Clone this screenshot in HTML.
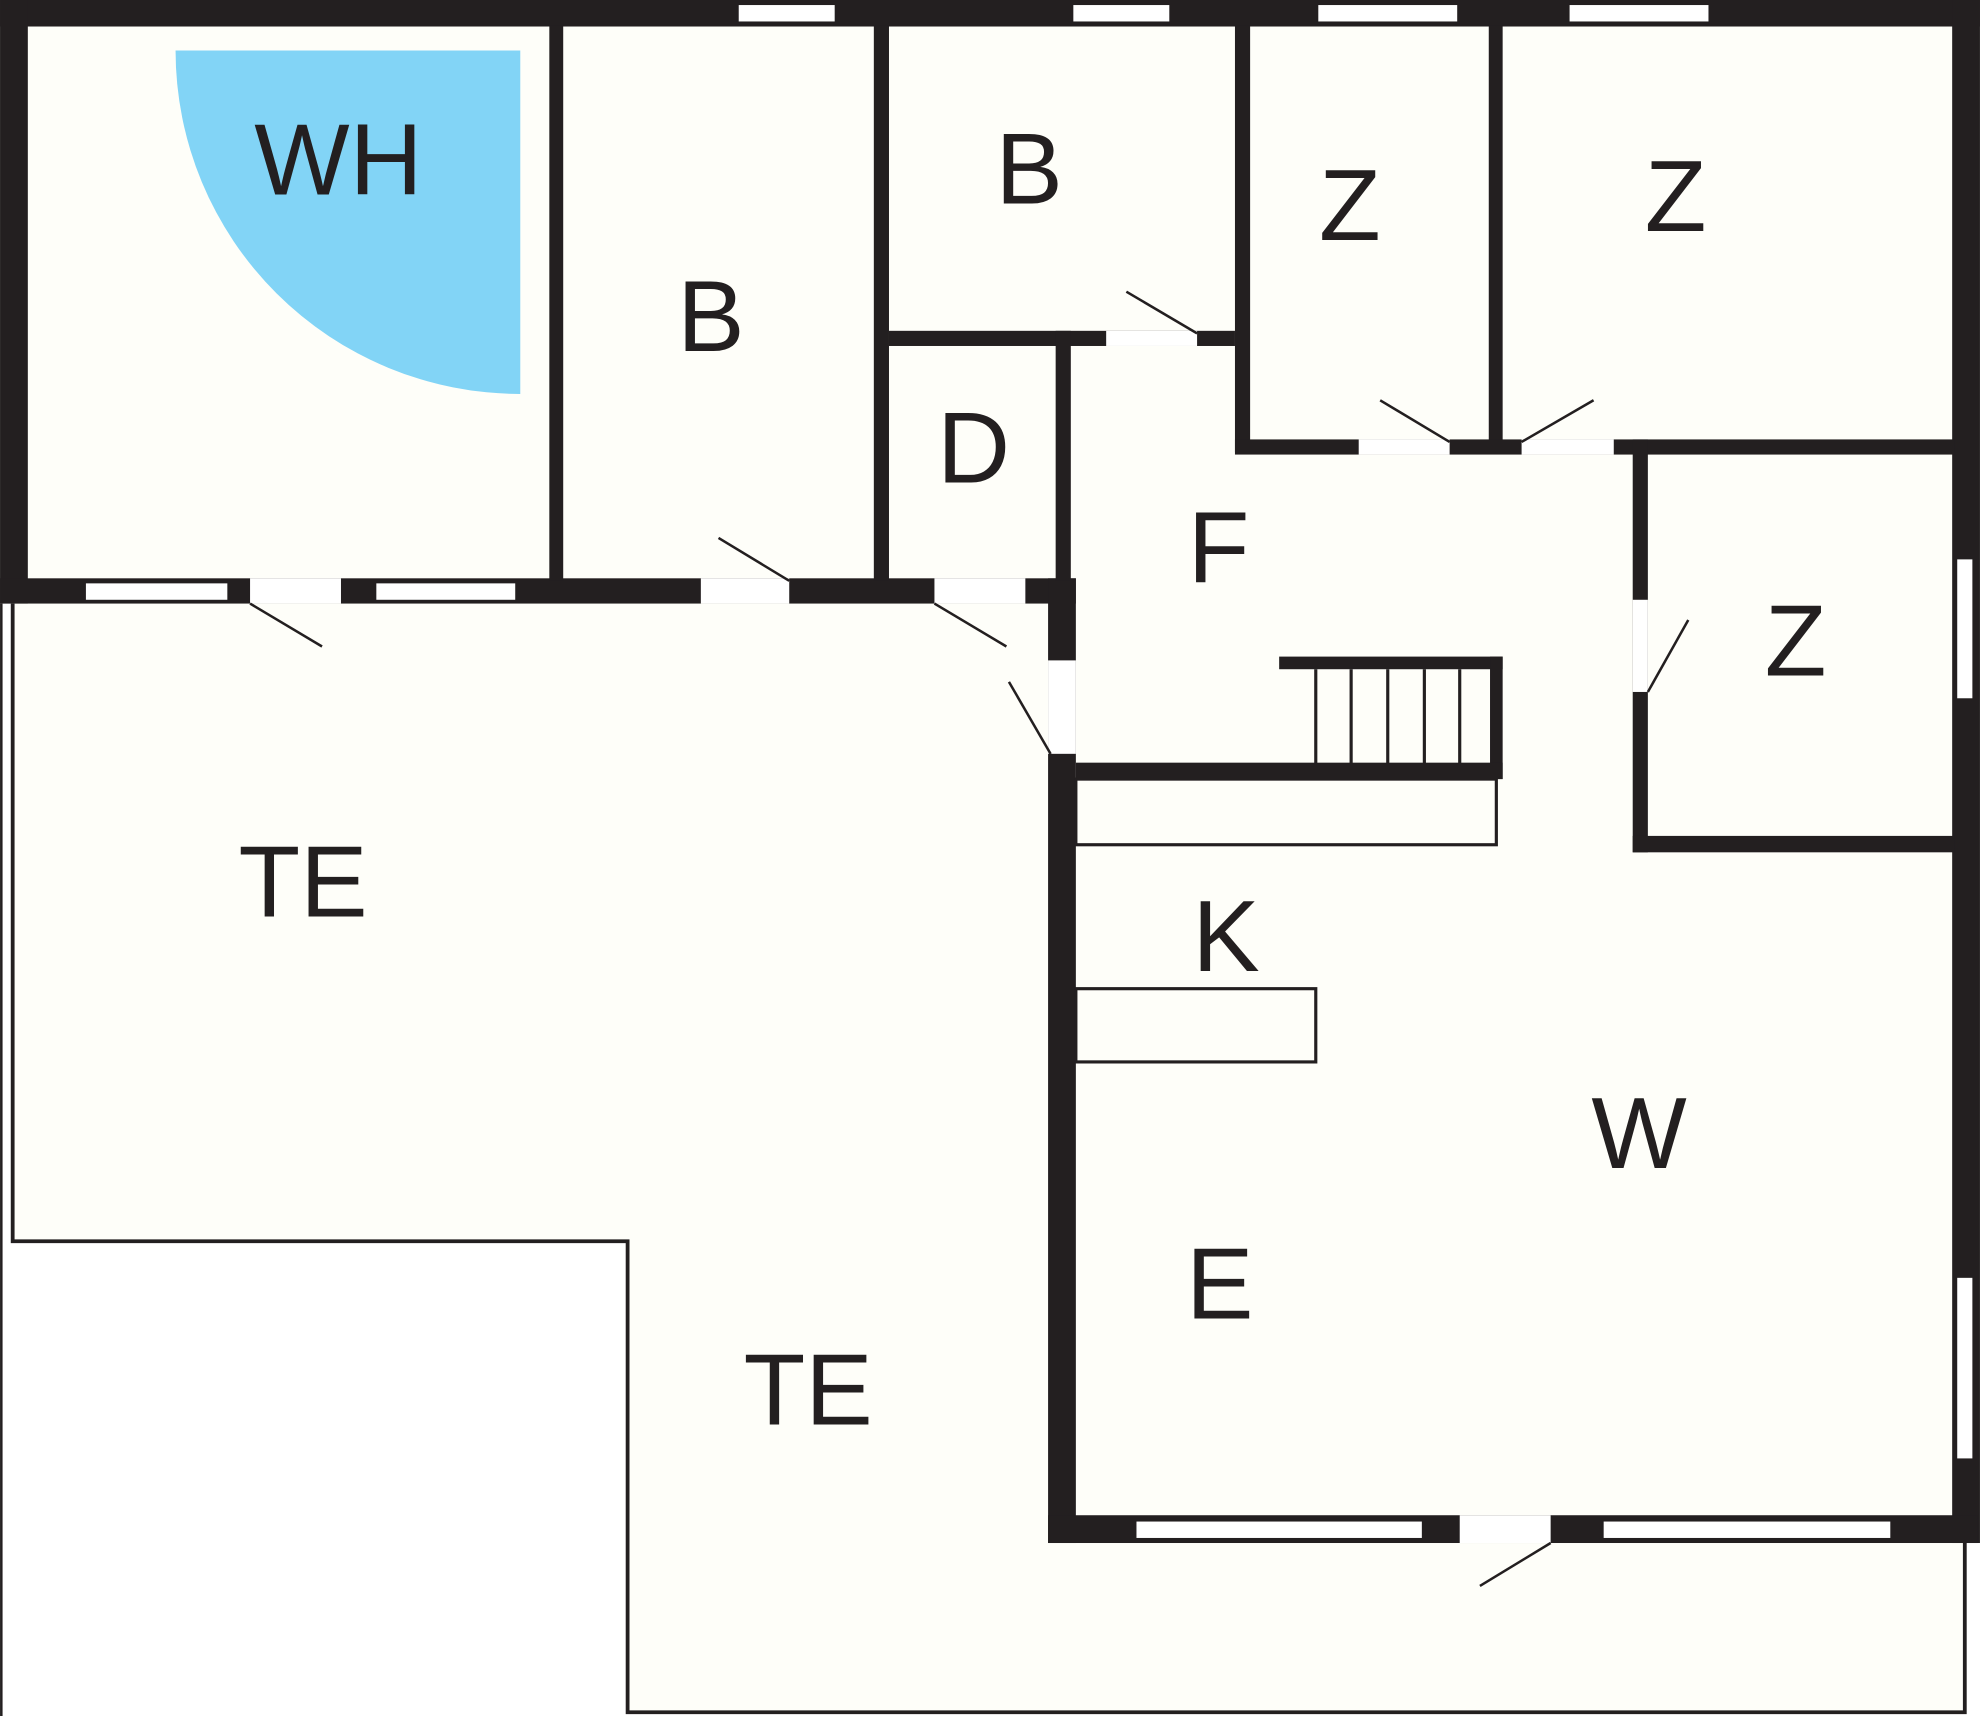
<!DOCTYPE html>
<html><head><style>html,body{margin:0;padding:0;background:#fff}svg{display:block}</style></head>
<body>
<svg width="1980" height="1716" viewBox="0 0 1568 1359" xmlns="http://www.w3.org/2000/svg">
<rect width="1568" height="1359" fill="#fff"/>
<!-- fills -->
<rect x="0" y="0" width="1566" height="478" fill="#fefef9"/>
<rect x="830" y="470" width="736" height="752" fill="#fefef9"/>
<polygon points="10,470 10,983 497,983 497,1356 1556,1356 1556,1222 830,1222 830,470" fill="#fefef9"/>
<!-- terrace outline -->
<polyline points="10,478 10,983 497,983 497,1356 1556,1356 1556,1222" fill="none" stroke="#231f20" stroke-width="3"/>
<line x1="1" y1="478" x2="1" y2="1359" stroke="#231f20" stroke-width="2"/>
<!-- WH -->
<path d="M139,40 L412,40 L412,312 A273,272 0 0 1 139,40 Z" fill="#82d4f6"/>
<g fill="#231f20">
<rect x="0" y="0" width="1568" height="21"/>
<rect x="0" y="0" width="22" height="478"/>
<rect x="1546" y="0" width="22" height="1222"/>
<rect x="0" y="458" width="852" height="20"/>
<rect x="830" y="458" width="22" height="764"/>
<rect x="830" y="1200" width="736" height="22"/>
<rect x="435" y="20" width="11" height="440"/>
<rect x="692" y="20" width="12" height="440"/>
<rect x="978" y="20" width="12" height="338"/>
<rect x="1179" y="20" width="11" height="338"/>
<rect x="704" y="262" width="274" height="12"/>
<rect x="836" y="262" width="12" height="198"/>
<rect x="978" y="348" width="570" height="12"/>
<rect x="1293" y="348" width="12" height="327"/>
<rect x="1293" y="662" width="255" height="13"/>
<rect x="1013" y="520" width="177" height="10"/>
<rect x="1180" y="520" width="10" height="97"/>
<rect x="852" y="604" width="338" height="13"/>
</g>
<g stroke="#231f20" stroke-width="2.5" fill="none">
<line x1="1042" y1="530" x2="1042" y2="605"/>
<line x1="1070" y1="530" x2="1070" y2="605"/>
<line x1="1099" y1="530" x2="1099" y2="605"/>
<line x1="1128" y1="530" x2="1128" y2="605"/>
<line x1="1156" y1="530" x2="1156" y2="605"/>
<rect x="852" y="617" width="333" height="52"/>
<rect x="852" y="783" width="190" height="58"/>
</g>
<g fill="#fff">
<rect x="585" y="4" width="76" height="13"/>
<rect x="850" y="4" width="76" height="13"/>
<rect x="1044" y="4" width="110" height="13"/>
<rect x="1243" y="4" width="110" height="13"/>
<rect x="68" y="462" width="112" height="13"/>
<rect x="298" y="462" width="110" height="13"/>
<rect x="198" y="458" width="72" height="20"/>
<rect x="555" y="458" width="70" height="20"/>
<rect x="740" y="458" width="72" height="20"/>
<rect x="830" y="523" width="22" height="74"/>
<rect x="876" y="262" width="72" height="12"/>
<rect x="1076" y="348" width="72" height="12"/>
<rect x="1205" y="348" width="73" height="12"/>
<rect x="1293" y="475" width="12" height="73"/>
<rect x="1550" y="443" width="12" height="110"/>
<rect x="1550" y="1012" width="12" height="143"/>
<rect x="900" y="1205" width="226" height="13"/>
<rect x="1270" y="1205" width="227" height="13"/>
<rect x="1156" y="1200" width="72" height="22"/>
</g>
<g stroke="#231f20" stroke-width="2">
<line x1="198" y1="478" x2="255" y2="512"/>
<line x1="569" y1="426" x2="625" y2="460"/>
<line x1="740" y1="478" x2="797" y2="512"/>
<line x1="799" y1="540" x2="832" y2="597"/>
<line x1="892" y1="231" x2="948" y2="264"/>
<line x1="1093" y1="317" x2="1148" y2="350"/>
<line x1="1205" y1="350" x2="1262" y2="317"/>
<line x1="1305" y1="548" x2="1337" y2="491"/>
<line x1="1172" y1="1256" x2="1228" y2="1222"/>
</g>
<g font-family="Liberation Sans, sans-serif" font-size="80" fill="#231f20" text-anchor="middle">
<text x="268" y="154">WH</text>
<text x="563" y="278">B</text>
<text x="815" y="161">B</text>
<text x="1069" y="190">Z</text>
<text x="1327" y="183">Z</text>
<text x="771" y="382">D</text>
<text x="965" y="461">F</text>
<text x="1422" y="535">Z</text>
<text x="240" y="726">TE</text>
<text x="971" y="769">K</text>
<text x="1298" y="925">W</text>
<text x="966" y="1044">E</text>
<text x="640" y="1128">TE</text>
</g>
</svg>
</body></html>
